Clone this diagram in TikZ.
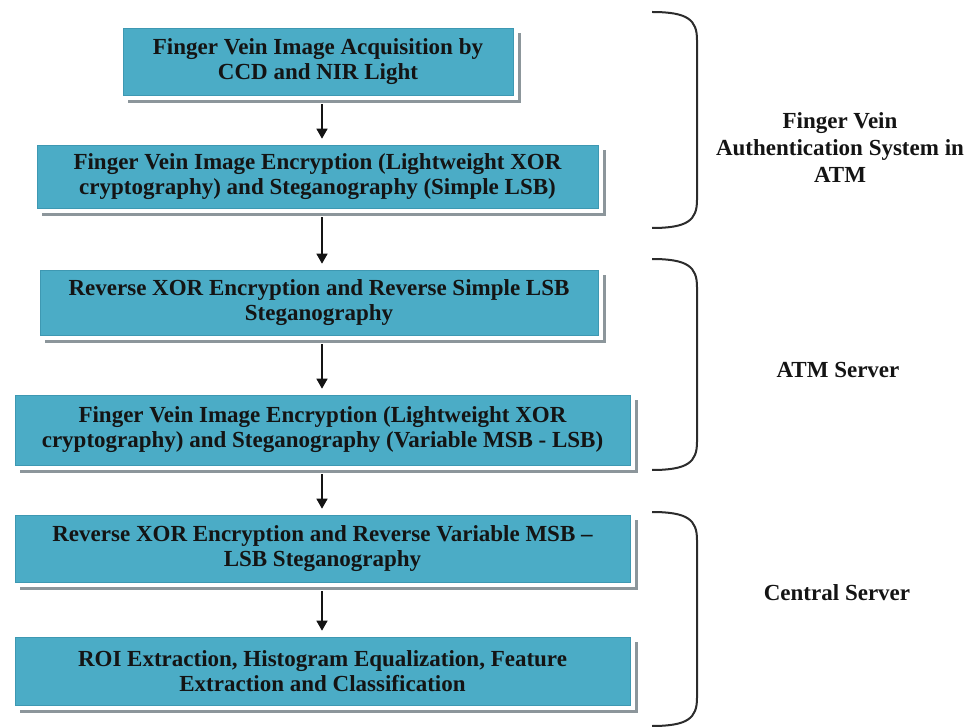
\documentclass[tikz,border=0pt]{standalone}
\usepackage{fontspec}
\setmainfont{Liberation Serif}
\usetikzlibrary{arrows.meta,backgrounds}
\definecolor{boxblue}{RGB}{75,172,198}
\definecolor{boxedge}{RGB}{62,152,178}
\definecolor{shadowgray}{RGB}{140,150,155}
\definecolor{inkdark}{RGB}{20,20,20}
\tikzset{
  stagebox/.style={fill=boxblue, draw=boxedge, line width=0.6pt, align=center,
    font=\fontsize{23}{25}\selectfont\bfseries, text=inkdark, inner sep=0pt},
  flowarrow/.style={line width=1.5pt, draw=inkdark,
    -{Triangle[length=10pt,width=11pt]}, shorten <=9pt, shorten >=6pt},
  bracket/.style={line width=2pt, draw=inkdark!90},
  grouplabel/.style={align=center, font=\fontsize{23}{27}\selectfont\bfseries, text=inkdark}
}
\begin{document}
\begin{tikzpicture}[x=1pt,y=-1pt]
\useasboundingbox (0,0) rectangle (978,727);

% process stages
\node[stagebox, minimum width=390pt, minimum height=67pt] (b1) at (318,61.5)
  {Finger Vein Image Acquisition by\\CCD and NIR Light};
\node[stagebox, minimum width=561pt, minimum height=63pt] (b2) at (317.5,176.5)
  {Finger Vein Image Encryption (Lightweight XOR\\cryptography) and Steganography (Simple LSB)};
\node[stagebox, minimum width=558pt, minimum height=65pt] (b3) at (319,302.5)
  {Reverse XOR Encryption and Reverse Simple LSB\\Steganography};
\node[stagebox, minimum width=615pt, minimum height=70pt] (b4) at (322.5,430)
  {Finger Vein Image Encryption (Lightweight XOR\\cryptography) and Steganography (Variable MSB - LSB)};
\node[stagebox, minimum width=615pt, minimum height=67pt] (b5) at (322.5,548.5)
  {Reverse XOR Encryption and Reverse Variable MSB --\\LSB Steganography};
\node[stagebox, minimum width=615pt, minimum height=68pt] (b6) at (322.5,671)
  {ROI Extraction, Histogram Equalization, Feature\\Extraction and Classification};

% frame and drop shadow behind each stage
\begin{scope}[on background layer]
  \foreach \b in {b1,b2,b3,b4,b5,b6} {
    \fill[shadowgray] ([shift={(5,5)}]\b.north west) rectangle ([shift={(8,8)}]\b.south east);
    \fill[white] ([shift={(-2,-2)}]\b.north west) rectangle ([shift={(5,5)}]\b.south east);
  }
\end{scope}

% flow arrows
\coordinate (ax) at (322,0);
\draw[flowarrow] (b1.south -| ax) -- (b2.north -| ax);
\draw[flowarrow] (b2.south -| ax) -- (b3.north -| ax);
\draw[flowarrow] (b3.south -| ax) -- (b4.north -| ax);
\draw[flowarrow] (b4.south -| ax) -- (b5.north -| ax);
\draw[flowarrow] (b5.south -| ax) -- (b6.north -| ax);

% grouping brackets
\draw[bracket] (652,12) .. controls (688,12) and (697,20) .. (697,40) -- (697,200)
  .. controls (697,220) and (688,228) .. (652,228);
\draw[bracket] (652,259) .. controls (688,259) and (697,267) .. (697,287) -- (697,442)
  .. controls (697,462) and (688,470) .. (652,470);
\draw[bracket] (652,512) .. controls (688,512) and (697,520) .. (697,540) -- (697,698)
  .. controls (697,718) and (688,726) .. (652,726);

% group labels
\node[grouplabel] (l1) at (840,148) {Finger Vein\\Authentication System in\\ATM};
\node[grouplabel] (l2) at (838,370) {ATM Server};
\node[grouplabel] (l3) at (837,593) {Central Server};
\end{tikzpicture}
\end{document}
